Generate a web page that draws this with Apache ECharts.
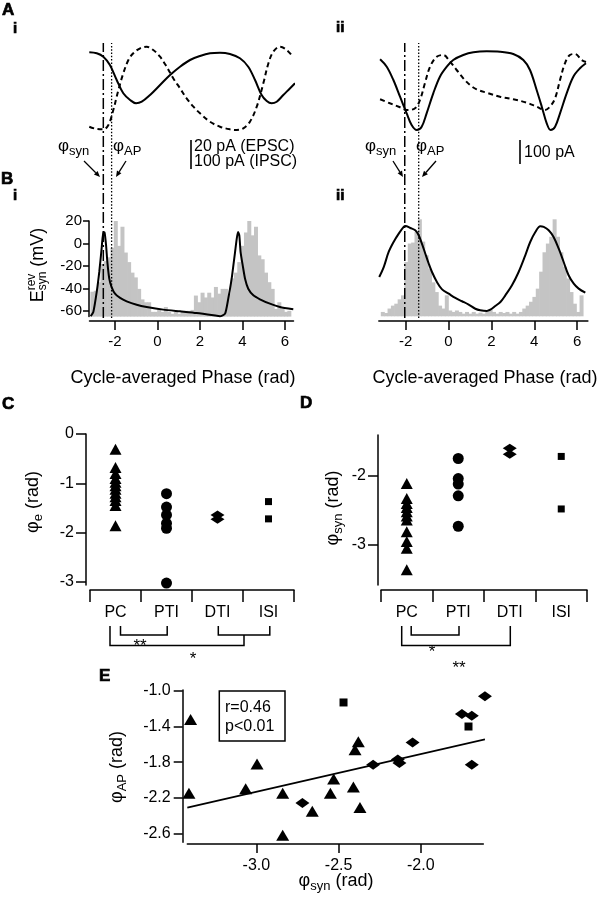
<!DOCTYPE html>
<html><head><meta charset="utf-8">
<script src="https://cdn.jsdelivr.net/npm/echarts@6/dist/echarts.min.js"></script>
<style>html,body{margin:0;padding:0;background:#fff}#c{width:604px;height:900px}</style>
</head><body><div id="c"></div>
<script>
const FONT = '"Liberation Sans", Arial, Helvetica, sans-serif';

// ---------- Panel A traces (phase rad, arbitrary current units) ----------
const aiSolid = [[-3.21,87.7],[-2.86,86.7],[-2.55,83.3],[-2.24,75],[-1.92,60],[-1.61,46.7],[-1.29,40],[-1.01,36.7],[-0.74,38.3],[-0.35,45],[0.12,55],[0.59,65],[1.06,73.3],[1.53,80],[2.0,84],[2.47,86.7],[2.94,87.3],[3.41,86],[3.88,81.7],[4.27,73.3],[4.59,60],[4.90,45],[5.14,39],[5.37,36.7],[5.61,38.3],[5.92,45],[6.24,51.7],[6.47,56.7]];
const aiDashed = [[-3.21,13.3],[-2.86,11],[-2.55,10.7],[-2.31,15],[-2.08,30],[-1.84,50],[-1.61,66.7],[-1.37,80],[-1.14,86.7],[-0.82,91.7],[-0.51,93.3],[-0.2,90],[0.12,83.3],[0.43,73.3],[0.74,61.7],[1.06,51.7],[1.37,41.7],[1.69,33.3],[2.0,26.7],[2.47,18.3],[2.94,13.3],[3.41,10.7],[3.73,10],[4.04,11.7],[4.35,18.3],[4.67,33.3],[4.98,56.7],[5.22,76.7],[5.45,88.3],[5.76,93.3],[6.08,90],[6.39,82.7]];
const aiiSolid = [[-3.19,80.7],[-2.88,73.3],[-2.57,60],[-2.26,43.3],[-1.95,26.7],[-1.72,15],[-1.48,10],[-1.25,13.3],[-1.02,26.7],[-0.71,46.7],[-0.40,63.3],[-0.08,73.3],[0.22,80],[0.69,85],[1.16,87.7],[1.78,88.7],[2.40,88.3],[3.02,86],[3.49,80],[3.80,70],[4.11,50],[4.35,33.3],[4.58,16.7],[4.76,10],[4.97,13.3],[5.20,26.7],[5.51,46.7],[5.82,63.3],[6.13,71.7],[6.41,76.7]];
const aiiDashed = [[-3.19,40.7],[-2.73,36.7],[-2.26,32.7],[-1.95,30],[-1.56,31.7],[-1.33,40],[-1.10,56.7],[-0.86,73.3],[-0.55,83.3],[-0.24,85],[0.07,78.3],[0.38,70],[0.69,61.7],[1.0,55],[1.31,50.7],[1.78,47.3],[2.40,43.3],[3.02,40.7],[3.65,37.3],[4.11,33.3],[4.50,30],[4.73,33.3],[4.97,41.7],[5.20,60],[5.43,76.7],[5.66,85],[5.90,86],[6.21,80],[6.41,78]];

// ---------- Panel B ----------
const biCurve = [[-3.145,-64.7],[-3.02,-60.9],[-2.86,-43.1],[-2.74,-25.3],[-2.63,-4.6],[-2.55,10.2],[-2.49,9.6],[-2.42,-1.6],[-2.36,-16.4],[-2.27,-31.3],[-2.16,-38.7],[-2.0,-44.6],[-1.76,-48.4],[-1.45,-51.4],[-0.98,-54.4],[-0.51,-56.4],[0.27,-58.8],[1.06,-60.3],[1.84,-61.8],[2.63,-63.8],[2.94,-64.7],[3.18,-62.4],[3.33,-49.0],[3.49,-31.3],[3.65,-7.6],[3.73,4.3],[3.79,10.2],[3.85,7.3],[3.91,-7.6],[4.01,-19.4],[4.12,-31.3],[4.27,-40.2],[4.51,-46.1],[4.82,-49.6],[5.29,-53.5],[5.76,-56.4],[6.39,-58.5]];
const biiCurve = [[-3.23,40.5],[-3.02,50.8],[-2.79,66.3],[-2.56,76.6],[-2.32,85.2],[-2.09,92.1],[-2.01,93.1],[-1.78,91.0],[-1.55,88.7],[-1.39,83.5],[-1.24,74.9],[-1.08,64.5],[-0.92,54.2],[-0.77,45.7],[-0.54,35.4],[-0.30,27.8],[0.01,23.3],[0.32,18.9],[0.63,15.5],[0.94,12.0],[1.25,7.8],[1.48,6.2],[1.79,5.5],[1.95,6.8],[2.18,10.6],[2.42,14.7],[2.65,21.6],[2.96,32.0],[3.27,45.7],[3.58,62.9],[3.81,76.6],[4.05,86.9],[4.28,92.8],[4.44,92.1],[4.67,88.7],[4.90,81.8],[5.14,69.7],[5.37,56.0],[5.60,42.3],[5.84,33.6],[6.07,28.5],[6.38,24.3]];
// spike-phase histograms, 60 bins from -pi to 2pi (relative counts)
const histBi = [26,27,36,55,58,62,72,100,74,94,67,57,46,41,29,18,15,15,5,5,8,5,10,5,3,5,3,6,6,6,7,22,15,25,20,25,20,31,24,29,29,24,40,46,57,74,88,100,85,94,64,60,46,36,29,8,15,8,5,6];
const histBii = [4.5,3.4,8,11,13,17.5,21.6,56,75,76,87,100,77,63,49,35,25,11,8,21.6,6,4.5,6,4.5,2.7,4.5,2.7,4.5,2.7,3.8,2.7,4.5,7,4.5,2.7,4.5,3.4,4.5,2.7,4.5,2.7,4.5,8,11,15,20,28.5,46,66,75,82,100,82,66,51,39,25,13,4.5,21.6];
const phaseTicks = [-2,0,2,4,6];
const esynTicks = [-60,-40,-20,0,20];
// phase markers (rad)
const phiSynI = -2.55, phiApI = -2.16, phiSynII = -2.04, phiApII = -1.39;

// ---------- Panels C, D ----------
const cellTypes = ['PC','PTI','DTI','ISI'];
const cPC = [-0.31,-0.68,-0.80,-0.90,-0.98,-1.05,-1.12,-1.20,-1.27,-1.35,-1.45,-1.86];
const cPTI = [-1.21,-1.48,-1.64,-1.81,-1.91,-3.02];
const cDTI = [-1.64,-1.73];
const cISI = [-1.37,-1.72];
const cTicks = [-3,-2,-1,0];
const dPC = [-2.11,-2.33,-2.40,-2.46,-2.52,-2.58,-2.64,-2.81,-2.95,-3.05,-3.36];
const dPTI = [-1.75,-2.04,-2.12,-2.29,-2.73];
const dDTI = [-1.60,-1.69];
const dISI = [-1.72,-2.48];
const dTicks = [-3,-2];

// ---------- Panel E ----------
const eTri = [[-3.40,-1.32],[-3.41,-2.15],[-3.065,-2.10],[-2.996,-1.82],[-2.84,-2.15],[-2.84,-2.62],[-2.66,-2.35],[-2.55,-2.15],[-2.53,-1.99],[-2.41,-2.08],[-2.40,-1.66],[-2.38,-1.57],[-2.37,-2.31]];
const eDia = [[-2.72,-2.26],[-2.29,-1.83],[-2.14,-1.77],[-2.13,-1.81],[-2.05,-1.58],[-1.75,-1.26],[-1.69,-1.28],[-1.69,-1.83],[-1.61,-1.06]];
const eSq = [[-2.47,-1.13],[-1.71,-1.40]];
const eFit = [[-3.42,-2.31],[-1.61,-1.545]];
const eXTicks = [-3.0,-2.5,-2.0];
const eYTicks = [-2.6,-2.2,-1.8,-1.4,-1.0];

// ---------- helpers ----------
const mctx = document.createElement('canvas').getContext('2d');
function tw(t, s, w){ mctx.font = (w||'normal')+' '+s+'px '+FONT; return mctx.measureText(t).width; }
function T(t, x, y, s, opt){ opt=opt||{}; return {type:'text', x:x, y:y, z:10, style:{text:t, fontSize:s, fontFamily:FONT, fontWeight:opt.w||'normal', fill:'#000', stroke: opt.stroke?'#000':null, lineWidth: opt.stroke||0, align:opt.align||'left', verticalAlign:'middle'}}; }
function comp(parts, x, y, rot, anchor){
  let cx = 0; const ch = [];
  parts.forEach(p => {
    const arr = Array.isArray(p) ? p : [p];
    let w = 0;
    arr.forEach(q => { ch.push(T(q.t, cx, q.dy||0, q.s)); w = Math.max(w, tw(q.t, q.s)); });
    cx += w;
  });
  if (anchor === 'center') ch.forEach(c => c.x -= cx/2);
  return {type:'group', x:x, y:y, rotation: rot||0, children: ch};
}
function arrow(x1,y1,x2,y2){
  const a=Math.atan2(y2-y1,x2-x1), L=6, W=2.6;
  const bx=x2-L*Math.cos(a), by=y2-L*Math.sin(a), px=-Math.sin(a)*W, py=Math.cos(a)*W;
  return [{type:'line', shape:{x1:x1,y1:y1,x2:bx,y2:by}, style:{stroke:'#000', lineWidth:1.3}},
          {type:'polygon', shape:{points:[[x2,y2],[bx+px,by+py],[bx-px,by-py]]}, style:{fill:'#000'}}];
}
function poly(pts){ return {type:'polyline', shape:{points:pts}, style:{stroke:'#000', lineWidth:1.5, fill:null}}; }

const axLine = {show:true, onZero:false, lineStyle:{color:'#000', width:1.5}};
const lbl = (s, m, vals, fmt) => ({show:true, fontSize:s, margin:m, color:'#000', fontFamily:FONT, customValues: vals, formatter: fmt});
function hid(gi, min, max){ return {type:'value', gridIndex:gi, min:min, max:max, show:false, splitLine:{show:false}}; }
const G = (l,t,w,h) => ({left:l, top:t, width:w, height:h, containLabel:false, outerBoundsMode:'none'});
const BLACK = {color:'#000', opacity:1};

const binW = 2*Math.PI*1.5/60;
const binC = i => -Math.PI + binW*(i+0.5);

const option = {
  animation:false,
  backgroundColor:'#fff',
  grid:[
    G(89.5,40,204,100),      //0 Ai
    G(378.8,40,209.1,100),   //1 Aii
    G(89.5,221,204,95.6),    //2 Bi
    G(378.8,219.3,209.1,97), //3 Bii
    G(89.5,43,204,275),      //4 markers left
    G(378.8,43,209.1,275),   //5 markers right
    G(90,434,204,151),       //6 C
    G(381,435,206,150),      //7 D
    G(187.3,690,296,152.3)   //8 E
  ],
  xAxis:[
    hid(0,-3.2,6.4),
    hid(1,-3.25,6.5),
    {type:'value', gridIndex:2, min:-3.2, max:6.4, position:'bottom', offset:4.4, axisLine:axLine,
     axisTick:{show:true, length:9, customValues:phaseTicks, lineStyle:{color:'#000', width:1.5}},
     axisLabel:lbl(15,13,phaseTicks), splitLine:{show:false}},
    {type:'value', gridIndex:3, min:-3.25, max:6.5, position:'bottom', offset:4.7, axisLine:axLine,
     axisTick:{show:true, length:9, customValues:phaseTicks, lineStyle:{color:'#000', width:1.5}},
     axisLabel:lbl(15,13,phaseTicks), splitLine:{show:false}},
    hid(4,-3.2,6.4),
    hid(5,-3.25,6.5),
    {type:'category', gridIndex:6, data:cellTypes, position:'bottom', offset:5, boundaryGap:true, axisLine:axLine,
     axisTick:{show:true, length:12, lineStyle:{color:'#000', width:1.5}}, axisLabel:{fontSize:16, margin:15, color:'#000', fontFamily:FONT}},
    {type:'category', gridIndex:7, data:cellTypes, position:'bottom', offset:5, boundaryGap:true, axisLine:axLine,
     axisTick:{show:true, length:12, lineStyle:{color:'#000', width:1.5}}, axisLabel:{fontSize:16, margin:15, color:'#000', fontFamily:FONT}},
    {type:'value', gridIndex:8, min:-3.42, max:-1.62, position:'bottom', offset:1.7, axisLine:axLine,
     axisTick:{show:true, length:9, customValues:eXTicks, lineStyle:{color:'#000', width:1.5}},
     axisLabel:lbl(16,14,eXTicks, v => v.toFixed(1)), splitLine:{show:false}}
  ],
  yAxis:[
    hid(0,0,100),
    hid(1,0,100),
    {type:'value', gridIndex:2, min:-65, max:20, position:'left', offset:0.5, axisLine:axLine,
     axisTick:{show:true, length:6, customValues:esynTicks, lineStyle:{color:'#000', width:1.5}},
     axisLabel:lbl(15,7,esynTicks), splitLine:{show:false}},
    hid(2,0,100),
    hid(3,0,100),
    hid(4,0,1),
    hid(5,0,1),
    {type:'value', gridIndex:6, min:-3.06, max:0, position:'left', offset:4, axisLine:axLine,
     axisTick:{show:true, length:10, customValues:cTicks, lineStyle:{color:'#000', width:1.5}},
     axisLabel:lbl(16,12,cTicks), splitLine:{show:false}},
    {type:'value', gridIndex:7, min:-3.58, max:-1.41, position:'left', offset:3, axisLine:axLine,
     axisTick:{show:true, length:10, customValues:dTicks, lineStyle:{color:'#000', width:1.5}},
     axisLabel:lbl(16,12,dTicks), splitLine:{show:false}},
    {type:'value', gridIndex:8, min:-2.70, max:-0.99, position:'left', offset:4.6, axisLine:axLine,
     axisTick:{show:true, length:9, customValues:eYTicks, lineStyle:{color:'#000', width:1.5}},
     axisLabel:lbl(16,12,eYTicks, v => v.toFixed(1)), splitLine:{show:false}}
  ],
  series:[
    // A traces
    {type:'line', xAxisIndex:0, yAxisIndex:0, data:aiSolid, smooth:0.35, showSymbol:false, clip:false, lineStyle:{color:'#000', width:2}},
    {type:'line', xAxisIndex:0, yAxisIndex:0, data:aiDashed, smooth:0.35, showSymbol:false, clip:false, lineStyle:{color:'#000', width:2, type:[5,3.5]}},
    {type:'line', xAxisIndex:1, yAxisIndex:1, data:aiiSolid, smooth:0.35, showSymbol:false, clip:false, lineStyle:{color:'#000', width:2}},
    {type:'line', xAxisIndex:1, yAxisIndex:1, data:aiiDashed, smooth:0.35, showSymbol:false, clip:false, lineStyle:{color:'#000', width:2, type:[5,3.5]}},
    // B histograms
    {type:'bar', xAxisIndex:2, yAxisIndex:3, data:histBi.map((v,i)=>[binC(i), v]), barWidth:4, itemStyle:{color:'#c4c4c4', opacity:1}, silent:true},
    {type:'bar', xAxisIndex:3, yAxisIndex:4, data:histBii.map((v,i)=>[binC(i), v]), barWidth:4, itemStyle:{color:'#c4c4c4', opacity:1}, silent:true},
    // B curves
    {type:'line', xAxisIndex:2, yAxisIndex:2, data:biCurve, smooth:0.2, showSymbol:false, clip:false, lineStyle:{color:'#000', width:2}},
    {type:'line', xAxisIndex:3, yAxisIndex:4, data:biiCurve, smooth:0.35, showSymbol:false, clip:false, lineStyle:{color:'#000', width:2}},
    // phase marker lines
    {type:'line', xAxisIndex:4, yAxisIndex:5, data:[[phiSynI,0],[phiSynI,1]], showSymbol:false, lineStyle:{color:'#000', width:1.5, type:[11,3,2,3]}},
    {type:'line', xAxisIndex:4, yAxisIndex:5, data:[[phiApI,0],[phiApI,1]], showSymbol:false, lineStyle:{color:'#000', width:1.3, type:[1.5,1.8]}},
    {type:'line', xAxisIndex:5, yAxisIndex:6, data:[[phiSynII,0],[phiSynII,1]], showSymbol:false, lineStyle:{color:'#000', width:1.5, type:[11,3,2,3]}},
    {type:'line', xAxisIndex:5, yAxisIndex:6, data:[[phiApII,0],[phiApII,1]], showSymbol:false, lineStyle:{color:'#000', width:1.3, type:[1.5,1.8]}},
    // C
    {type:'scatter', xAxisIndex:6, yAxisIndex:7, data:cPC.map(v=>[0,v]), symbol:'triangle', symbolSize:[12,11], itemStyle:BLACK, clip:false},
    {type:'scatter', xAxisIndex:6, yAxisIndex:7, data:cPTI.map(v=>[1,v]), symbol:'circle', symbolSize:11, itemStyle:BLACK, clip:false},
    {type:'scatter', xAxisIndex:6, yAxisIndex:7, data:cDTI.map(v=>[2,v]), symbol:'diamond', symbolSize:[14,9], itemStyle:BLACK, clip:false},
    {type:'scatter', xAxisIndex:6, yAxisIndex:7, data:cISI.map(v=>[3,v]), symbol:'rect', symbolSize:7, itemStyle:BLACK, clip:false},
    // D
    {type:'scatter', xAxisIndex:7, yAxisIndex:8, data:dPC.map(v=>[0,v]), symbol:'triangle', symbolSize:[12,11], itemStyle:BLACK, clip:false},
    {type:'scatter', xAxisIndex:7, yAxisIndex:8, data:dPTI.map(v=>[1,v]), symbol:'circle', symbolSize:11, itemStyle:BLACK, clip:false},
    {type:'scatter', xAxisIndex:7, yAxisIndex:8, data:dDTI.map(v=>[2,v]), symbol:'diamond', symbolSize:[14,9], itemStyle:BLACK, clip:false},
    {type:'scatter', xAxisIndex:7, yAxisIndex:8, data:dISI.map(v=>[3,v]), symbol:'rect', symbolSize:7, itemStyle:BLACK, clip:false},
    // E
    {type:'line', xAxisIndex:8, yAxisIndex:9, data:eFit, showSymbol:false, clip:false, lineStyle:{color:'#000', width:1.7}},
    {type:'scatter', xAxisIndex:8, yAxisIndex:9, data:eTri, symbol:'triangle', symbolSize:[13,11], itemStyle:BLACK, clip:false},
    {type:'scatter', xAxisIndex:8, yAxisIndex:9, data:eDia, symbol:'diamond', symbolSize:[14,10], itemStyle:BLACK, clip:false},
    {type:'scatter', xAxisIndex:8, yAxisIndex:9, data:eSq, symbol:'rect', symbolSize:8, itemStyle:BLACK, clip:false}
  ],
  graphic:[]
};

const g = option.graphic;
const PL = {w:'bold', stroke:0.7};
// panel letters
g.push(T('A',2,10,17,PL), T('i',13,29,15,PL), T('ii',336,28,15,PL));
g.push(T('B',1,179,17,PL), T('i',13,196,15,PL), T('ii',336,196,15,PL));
g.push(T('C',2,404,17,PL), T('D',300,403,17,PL), T('E',99,676,17,PL));
// phase labels
g.push(comp([{t:'φ',s:17},{t:'syn',s:13,dy:5}],58,146));
g.push(comp([{t:'φ',s:17},{t:'AP',s:13,dy:5}],113,146));
g.push(comp([{t:'φ',s:17},{t:'syn',s:13,dy:5}],365,146));
g.push(comp([{t:'φ',s:17},{t:'AP',s:13,dy:5}],416,146));
g.push(...arrow(84,161,100,177), ...arrow(126,161,116,177), ...arrow(393,161,403,177), ...arrow(436,161,422,177));
// scale bars
g.push({type:'line', shape:{x1:191,y1:140,x2:191,y2:169}, style:{stroke:'#000', lineWidth:1.6}});
g.push(T('20 pA (EPSC)',194,147,16), T('100 pA (IPSC)',194,162,16));
g.push({type:'line', shape:{x1:520,y1:140,x2:520,y2:164}, style:{stroke:'#000', lineWidth:1.6}});
g.push(T('100 pA',524,153,16));
// axis titles
g.push(T('Cycle-averaged Phase (rad)',183,378,18,{align:'center'}));
g.push(T('Cycle-averaged Phase (rad)',485,378,18,{align:'center'}));
g.push(comp([{t:'E',s:18},[{t:'rev',s:12,dy:-6},{t:'syn',s:12,dy:5}],{t:' (mV)',s:18}],38,265,Math.PI/2,'center'));
g.push(comp([{t:'φ',s:18},{t:'e',s:13,dy:5},{t:' (rad)',s:18}],33,502,Math.PI/2,'center'));
g.push(comp([{t:'φ',s:18},{t:'syn',s:13,dy:5},{t:' (rad)',s:18}],333,508,Math.PI/2,'center'));
g.push(comp([{t:'φ',s:18},{t:'AP',s:13,dy:5},{t:' (rad)',s:18}],117,767,Math.PI/2,'center'));
g.push(comp([{t:'φ',s:18},{t:'syn',s:13,dy:5},{t:' (rad)',s:18}],336,881,0,'center'));
// significance brackets
g.push(poly([[120.5,626],[120.5,635],[167.2,635],[167.2,626]]));
g.push(poly([[218.3,626],[218.3,635],[269.8,635],[269.8,626]]));
g.push(poly([[110,626],[110,645.5],[244,645.5],[244,635]]));
g.push(T('**',140,646,17,{align:'center'}), T('*',193,659,17,{align:'center'}));
g.push(poly([[411.2,626],[411.2,635],[459,635],[459,626]]));
g.push(poly([[401.7,626],[401.7,645.5],[510.3,645.5],[510.3,626]]));
g.push(T('*',432,652,17,{align:'center'}), T('**',459,668,17,{align:'center'}));
// stats box
g.push({type:'rect', shape:{x:219.3,y:691,width:65.7,height:50}, style:{fill:null, stroke:'#000', lineWidth:1.5}});
g.push(T('r=0.46',225,708,16), T('p<0.01',225,727,16));

const chart = echarts.init(document.getElementById('c'), null, {renderer:'canvas', width:604, height:900});
chart.setOption(option);
</script></body></html>
